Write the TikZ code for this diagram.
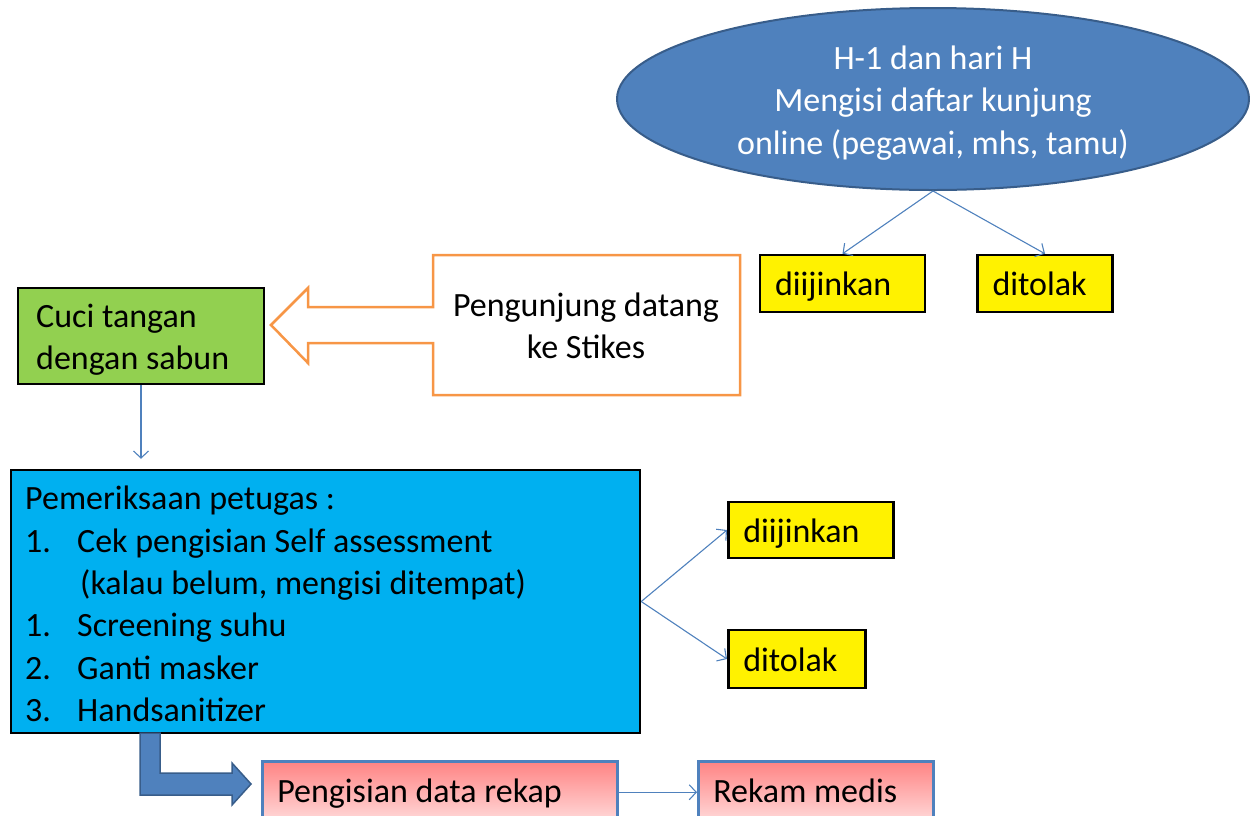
\documentclass[tikz,border=0pt]{standalone}
\usepackage{fontspec}
\setmainfont{Carlito}
\usetikzlibrary{arrows.meta,shapes.geometric}
\definecolor{accblue}{HTML}{4F81BD}
\definecolor{accblued}{HTML}{385D8A}
\definecolor{cyanbox}{HTML}{00B0F0}
\definecolor{greenbox}{HTML}{92D050}
\definecolor{orangeln}{HTML}{F79646}
\definecolor{pinktop}{HTML}{FF8383}
\definecolor{pinkbot}{HTML}{FFDCDC}
\begin{document}
\begin{tikzpicture}[x=1pt,y=-1pt,
  font=\fontsize{34}{42.4}\selectfont,
  every node/.append style={execute at begin node={\spaceskip=0pt\xspaceskip=0pt\relax}},
  plaintext/.style={inner sep=0pt},
  yellowbox/.style={draw=black, line width=2.5pt, fill=yellow, align=left, inner xsep=15pt, inner ysep=0pt, text height=28pt, text depth=4pt, minimum height=#1},
  pinkbox/.style={draw=accblue, line width=2.5pt, top color=pinktop, bottom color=pinkbot, align=left, inner xsep=15pt, inner ysep=0pt, text height=26pt, text depth=6pt, minimum height=62pt},
  thin/.style={draw=accblue, line width=1.1pt, -{Straight Barb[length=7pt,width=15pt]}}
]
\clip (0,0) rectangle (1250,815);
% ellipse
\node[ellipse, fill=accblue, draw=accblued, line width=2pt, minimum width=632pt, minimum height=182pt, inner sep=0pt] (ell) at (933,99) {};
\node[plaintext, text=white, align=center] (elltext) at (933,103)
  {H-1 dan hari H\\Mengisi daftar kunjung\\online (pegawai, mhs, tamu)};
% top yellow boxes
\node[yellowbox=57pt, text width=135pt] (dij1) at (842.5,283.5) {diijinkan};
\node[yellowbox=57pt, text width=105pt] (dit1) at (1045,283.5) {ditolak};
\draw[thin] (ell.south) -- (dij1.north);
\draw[thin] (ell.south) -- (dit1.north);
% green box
\node[draw=black, line width=2.5pt, fill=greenbox, minimum width=246pt, minimum height=96pt, inner sep=0pt] (cuci) at (141,336) {};
\node[plaintext, align=left, anchor=west] (cucitext) at (36,340) {Cuci tangan\\dengan sabun};
% orange callout
\draw[orangeln, line width=2.5pt, line join=miter]
  (433,255) -- (740,255) -- (740,395) -- (433,395) -- (433,343) -- (308,343) -- (308,363)
  -- (271,325) -- (308,288) -- (308,307) -- (433,307) -- cycle;
\node[plaintext, align=center] (datang) at (586,326) {Pengunjung datang\\ke Stikes};
% blue box
\node[draw=black, line width=2.5pt, fill=cyanbox, minimum width=629pt, minimum height=263pt, inner sep=0pt] (cek) at (325.5,601.5) {};
\node[plaintext, align=left, anchor=west] (cektext) at (25,604)
  {Pemeriksaan petugas :\\
   \makebox[52pt][l]{1.}Cek pengisian Self assessment\\
   \hspace*{55pt}(kalau belum, mengisi ditempat)\\
   \makebox[52pt][l]{1.}Screening suhu\\
   \makebox[52pt][l]{2.}Ganti masker\\
   \makebox[52pt][l]{3.}Handsanitizer};
\draw[thin] (cuci.south) -- ([yshift=10pt]cek.north -| cuci.south);
% right yellow boxes
\node[yellowbox=56pt, text width=135pt, anchor=west] (dij2) at (727,530) {diijinkan};
\node[yellowbox=58pt, text width=107pt, anchor=west] (dit2) at (727,659) {ditolak};
\draw[thin] (cek.east) -- (dij2.west);
\draw[thin] (cek.east) -- (dit2.west);
% pink boxes
\node[pinkbox, text width=325pt, anchor=north west] (rekap) at (261,760) {Pengisian data rekap};
\node[pinkbox, text width=205pt, anchor=north west] (medis) at (697,760) {Rekam medis};
\draw[thin] (rekap.east) -- (medis.west);
% bent block arrow
\draw[fill=accblue, draw=accblued, line width=1.5pt, line join=miter]
  (140,733) -- (140,795) -- (232,795) -- (232,805) -- (251,784) -- (232,763) -- (232,773) -- (160,773) -- (160,733) -- cycle;
\end{tikzpicture}
\end{document}
